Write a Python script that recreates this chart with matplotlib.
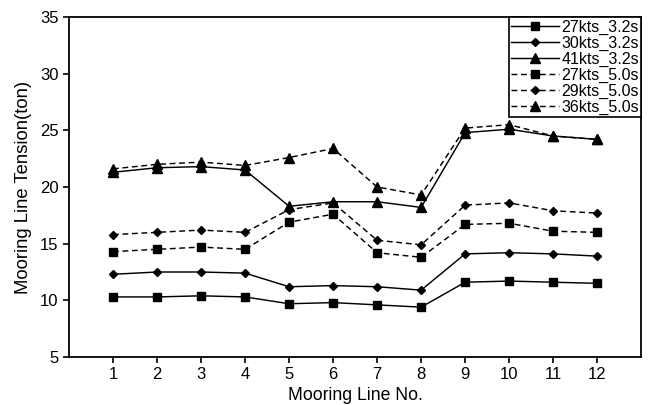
import matplotlib
matplotlib.use("Agg")
import matplotlib.pyplot as plt

plt.rcParams['font.family'] = ['Liberation Sans', 'DejaVu Sans']

lines_no = [1, 2, 3, 4, 5, 6, 7, 8, 9, 10, 11, 12]
labels = ["27kts_3.2s", "30kts_3.2s", "41kts_3.2s", "27kts_5.0s", "29kts_5.0s", "36kts_5.0s"]
s27_32 = [10.3, 10.3, 10.4, 10.3, 9.7, 9.8, 9.6, 9.4, 11.6, 11.7, 11.6, 11.5]
s30_32 = [12.3, 12.5, 12.5, 12.4, 11.2, 11.3, 11.2, 10.9, 14.1, 14.2, 14.1, 13.9]
s41_32 = [21.3, 21.7, 21.8, 21.5, 18.3, 18.7, 18.7, 18.2, 24.8, 25.1, 24.5, 24.2]
s27_50 = [14.3, 14.5, 14.7, 14.5, 16.9, 17.6, 14.2, 13.8, 16.7, 16.8, 16.1, 16.0]
s29_50 = [15.8, 16.0, 16.2, 16.0, 18.0, 18.6, 15.3, 14.9, 18.4, 18.6, 17.9, 17.7]
s36_50 = [21.6, 22.0, 22.2, 21.9, 22.6, 23.4, 20.0, 19.3, 25.2, 25.5, 24.5, 24.2]
yticks = [5, 10, 15, 20, 25, 30, 35]

series = [s27_32, s30_32, s41_32, s27_50, s29_50, s36_50]
markers = ['s', 'D', '^', 's', 'D', '^']
msizes = [5.5, 4.5, 6.5, 5.5, 4.5, 6.5]
dashed = [False, False, False, True, True, True]

fig = plt.figure(figsize=(6.51, 4.05), dpi=100)
ax = fig.add_axes([0.106, 0.1185, 0.879, 0.8395])

for vals, lab, mk, ms, d in zip(series, labels, markers, msizes, dashed):
    ax.plot(lines_no, vals, color='black', marker=mk, markersize=ms, linewidth=1.05,
            linestyle=(0, (4, 2.5)) if d else '-', label=lab)

ax.set_xlim(0, 13)
ax.set_ylim(5, 35)
ax.set_xticks(lines_no)
ax.set_yticks(yticks)
ax.tick_params(direction='out', length=4.5, width=1.2, labelsize=12, colors='black', pad=3)
for sp in ax.spines.values():
    sp.set_linewidth(1.3)
ax.set_xlabel("Mooring Line No.", fontsize=12.7, labelpad=3)
ax.set_ylabel("Mooring Line Tension(ton)", fontsize=13.3, labelpad=6)

leg = ax.legend(loc='upper right', borderaxespad=0, fancybox=False, framealpha=1,
                edgecolor='black', fontsize=11.5, labelspacing=0.06, handlelength=3.0,
                handletextpad=0.15, borderpad=0.15)
leg.get_frame().set_linewidth(1.2)

fig.savefig("out.png", dpi=100)
